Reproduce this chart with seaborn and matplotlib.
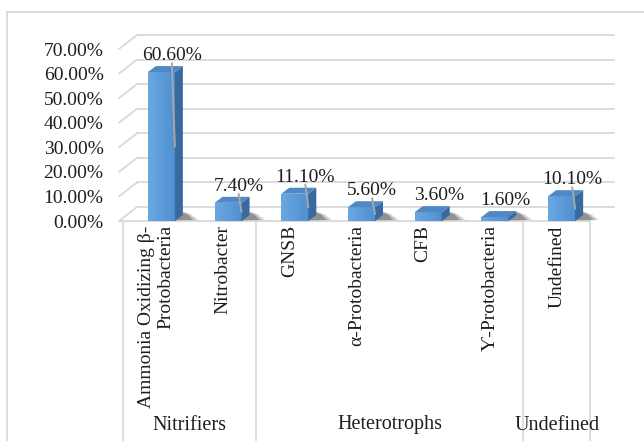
import numpy as np
import pandas as pd
import matplotlib
matplotlib.use("Agg")
import matplotlib.pyplot as plt
import matplotlib.transforms as mtransforms
from matplotlib.colors import LinearSegmentedColormap
from matplotlib.patches import Polygon
from matplotlib.lines import Line2D
import seaborn as sns

# ---- data ---------------------------------------------------------------
categories = ["Ammonia Oxidizing β-\nProtobacteria", "Nitrobacter", "GNSB",
              "α-Protobacteria", "CFB", "Ƴ-Protobacteria", "Undefined"]
shares = [60.6, 7.4, 11.1, 5.6, 3.6, 1.6, 10.1]          # percent
groups = ["Nitrifiers", "Heterotrophs", "Undefined"]
group_sizes = [2, 4, 1]
y_ticks = [0, 10, 20, 30, 40, 50, 60, 70]

# ---- style --------------------------------------------------------------
sns.set_style("white")
plt.rcParams["font.family"] = ["Liberation Serif", "DejaVu Serif"]
FS = 14
GRID = "#d9d9d9"
TXT = "#1e1e1e"

W_PX, H_PX = 644, 441
fig = plt.figure(figsize=(W_PX / 100, H_PX / 100), dpi=100)

# plot area in pixels (front plane)
ax_l, ax_r = 123, 590
ax_y0, ax_y70 = 221, 49
ax = fig.add_axes([ax_l / W_PX, (H_PX - ax_y0) / H_PX,
                   (ax_r - ax_l) / W_PX, (ax_y0 - ax_y70) / H_PX])

df = pd.DataFrame({"taxon": categories, "share": shares})
sns.barplot(data=df, x="taxon", y="share", ax=ax, width=0.405,
            color="#5b9bd5", saturation=1, zorder=3)

shift = 0.075
xlim = (-0.5 - shift, len(categories) - 0.5 - shift)
ylim = (0, 70)
px_x = (ax_r - ax_l) / (xlim[1] - xlim[0])
px_y = (ax_y0 - ax_y70) / (ylim[1] - ylim[0])


def xd(px):
    """figure pixel column -> data x"""
    return xlim[0] + (px - ax_l) / px_x


# ---- back wall, side wall and floor ------------------------------------
wall_dx, wall_dy = 15, 14
for t in y_ticks:
    yb = t + wall_dy / px_y
    ax.add_line(Line2D([xd(ax_l + wall_dx - 1), xd(614)], [yb, yb], color=GRID,
                       lw=1.3, zorder=1, clip_on=False))
    ax.add_line(Line2D([xd(119), xd(ax_l + wall_dx - 1)], [t, yb], color=GRID,
                       lw=1.3, zorder=1, clip_on=False))
ax.add_line(Line2D([xd(119), xd(ax_r)], [0, 0], color=GRID, lw=1.3,
                   zorder=1, clip_on=False))

# ---- 3D bars --------------------------------------------------------------
front_cmap = LinearSegmentedColormap.from_list("front", ["#6aa8e2", "#4f8fd0"])
bar_dx, bar_dy = 8 / px_x, 6 / px_y
bars = list(ax.patches)
for p, v in zip(bars, shares):
    x0 = p.get_x()
    x1 = x0 + p.get_width()
    h = p.get_height()
    # soft shadow on the floor
    for k, a in enumerate([0.15, 0.2, 0.3]):
        grow = (2 - k) * 3
        ax.add_patch(Polygon([(x0 + 2 / px_x, 0.3 / px_y),
                              (x1 + bar_dx + (10 + grow) / px_x, 1 / px_y),
                              (x1 + bar_dx + (2 + grow) / px_x, (7 + k) / px_y),
                              (x0 + 6 / px_x, (7 + k) / px_y)],
                             closed=True, fc="#303030", ec="none", alpha=a,
                             zorder=2, clip_on=False))
    # front face with gradient
    p.set_edgecolor("none")
    grad = np.linspace(0, 1, 64).reshape(1, -1)
    im = ax.imshow(grad, extent=[x0, x1, 0, h], aspect="auto", cmap=front_cmap,
                   zorder=3.1, interpolation="bicubic")
    im.set_clip_path(p)
    # side face
    ax.add_patch(Polygon([(x1, 0), (x1 + bar_dx, bar_dy), (x1 + bar_dx, h + bar_dy),
                          (x1, h)], closed=True, fc="#38699f", ec="none", zorder=3.2))
    # top face
    ax.add_patch(Polygon([(x0, h), (x1, h), (x1 + bar_dx, h + bar_dy),
                          (x0 + bar_dx, h + bar_dy)], closed=True, fc="#5088c4",
                         ec="none", zorder=3.3))
    # value label with leader
    lx = x1 - 3 / px_x
    ly = h + bar_dy + 2 / px_y
    ax.text(lx, ly, f"{v:.2f}%", ha="center", va="bottom", fontsize=FS,
            color=TXT, zorder=6)
    if v > 5:
        ax.add_line(Line2D([lx, x1], [ly + 1 / px_y, h / 2], color="#a6a6a6",
                           lw=1.4, zorder=5))

ax.set_xlim(*xlim)
ax.set_ylim(*ylim)

# ---- axes text ----------------------------------------------------------
ax.set_yticks(y_ticks)
ax.set_yticklabels([f"{t:.2f}%" for t in y_ticks], fontsize=FS, color=TXT)
ax.set_xticks(np.arange(len(categories)) - shift)
ax.set_xticklabels(categories, rotation=90, va="top", ha="center",
                   multialignment="right", fontsize=FS, color=TXT)
ax.tick_params(axis="y", length=0, pad=14)
ax.tick_params(axis="x", length=0, pad=3)
ax.set_xlabel("")
ax.set_ylabel("")
for s in ax.spines.values():
    s.set_visible(False)

# category frame and group labels
blend = mtransforms.blended_transform_factory(ax.transData, ax.transAxes)
bounds = np.concatenate([[0], np.cumsum(group_sizes)]) - 0.5 - shift
for b in bounds:
    ax.add_line(Line2D([b, b], [0, -1.35], color=GRID, lw=1.3,
                       transform=blend, clip_on=False, zorder=1))
for g, a, b in zip(groups, bounds[:-1], bounds[1:]):
    ax.text((a + b) / 2, (ax_y0 - 425) / (ax_y0 - ax_y70), g, transform=blend,
            ha="center", va="center", fontsize=FS + 0.5, color=TXT)

# outer chart border
fig.add_artist(Line2D([7 / W_PX, 7 / W_PX], [0, (H_PX - 12) / H_PX],
                      color=GRID, lw=1.3, transform=fig.transFigure))
fig.add_artist(Line2D([7 / W_PX, 1], [(H_PX - 12) / H_PX] * 2,
                      color=GRID, lw=1.3, transform=fig.transFigure))

fig.savefig("out.png", dpi=100)
